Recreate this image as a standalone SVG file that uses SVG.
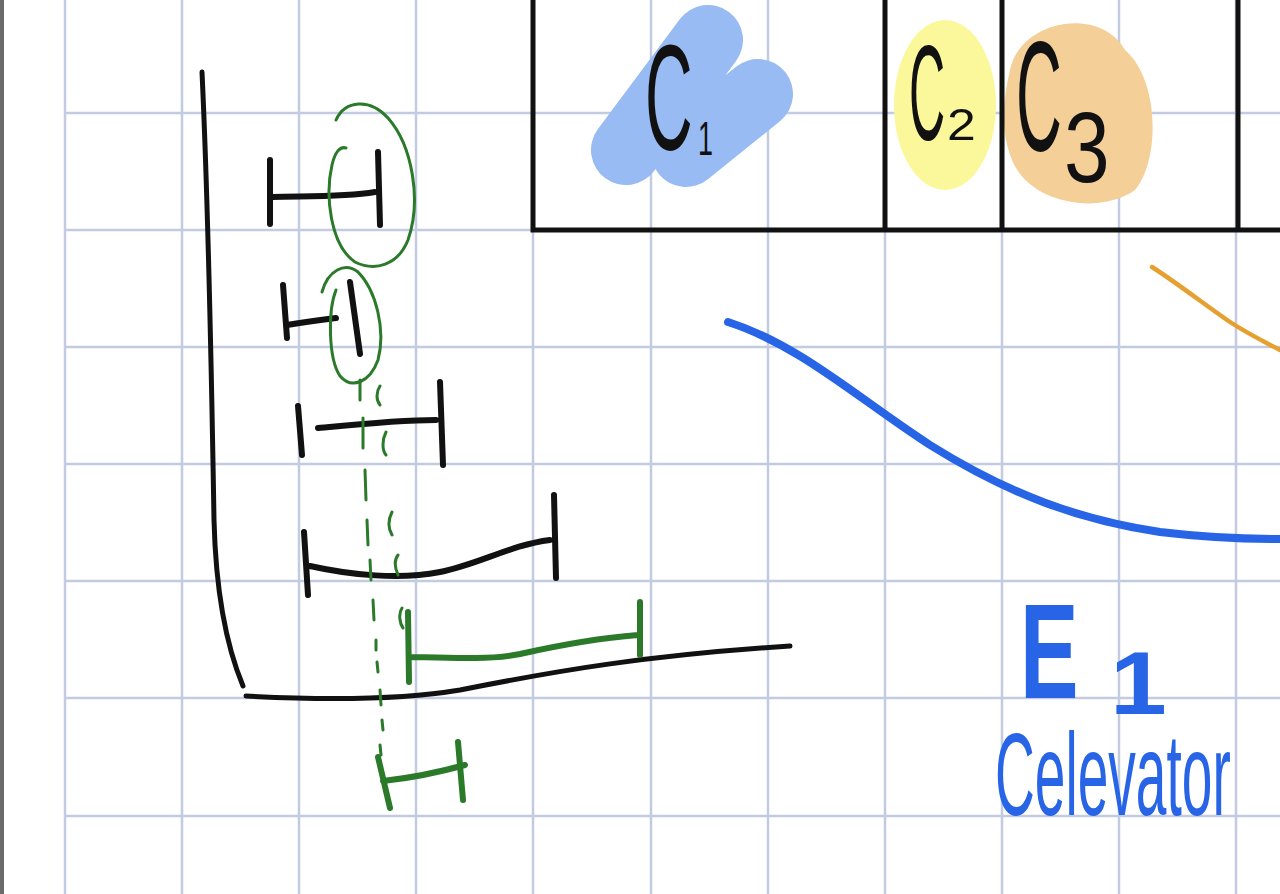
<svg xmlns="http://www.w3.org/2000/svg" width="1280" height="894" viewBox="0 0 1280 894">
<style>
.grid{stroke:#c3cbe2;stroke-width:2.5;fill:none}
.ink{stroke:#111;stroke-width:6;fill:none;stroke-linecap:round;stroke-linejoin:round}
.axis{stroke:#111;stroke-width:5;fill:none;stroke-linecap:round}
.tbl{stroke:#111;stroke-width:5;fill:none}
.gr{stroke:#2a7a2a;stroke-width:3;fill:none;stroke-linecap:round}
.grt{stroke:#2a7a2a;stroke-width:6;fill:none;stroke-linecap:round;stroke-linejoin:round}
.hand{font-family:"Liberation Sans",Arial,sans-serif;fill:#111}
.blue{font-family:"Liberation Sans",Arial,sans-serif;fill:#2764e6}
</style>
<rect width="1280" height="894" fill="#ffffff"/>
<rect x="0" y="0" width="4" height="894" fill="#6b6b6b"/>
<g id="grid">
<path class="grid" d="M65 0V894M182 0V894M299 0V894M416 0V894M533 0V894M651 0V894M768 0V894M885 0V894M1002 0V894M1119 0V894M1236 0V894M65 113H1280M65 230H1280M65 347H1280M65 464H1280M65 581H1280M65 698H1280M65 816H1280"/>
</g>
<g id="highlights">
<path d="M626 150L708 40M686 152L758 94" stroke="#97bbf2" stroke-width="70" stroke-linecap="round" fill="none"/>
<ellipse cx="945" cy="105" rx="51" ry="85" fill="#fbf89c"/>
<path d="M1010 70 C1020 20 1100 5 1125 50 C1160 80 1160 160 1135 190 C1100 215 1030 205 1012 160 C1000 130 1003 100 1010 70Z" fill="#f4cf98"/>
</g>
<g id="table">
<path class="tbl" d="M533 0V230H1280M885 0V230M1002 0V230M1238 0V230"/>
</g>
<g id="labels">
<text class="hand" transform="translate(645,150) scale(0.44,1)" font-size="150">C</text>
<text class="hand" transform="translate(698,155) scale(0.56,1)" font-size="48">1</text>
<text class="hand" transform="translate(909,140) scale(0.37,1)" font-size="135">C</text>
<text class="hand" transform="translate(947,140) scale(1.15,1)" font-size="45">2</text>
<text class="hand" transform="translate(1016,150) scale(0.41,1)" font-size="155">C</text>
<text class="hand" transform="translate(1064,182) scale(0.82,1)" font-size="100">3</text>
</g>
<g id="axes">
<path class="axis" d="M202 72 C208 200 212 400 214 520 C216 600 228 650 243 686"/>
<path class="axis" d="M246 696 C320 700 400 700 460 690 C560 670 650 655 790 646"/>
</g>
<g id="black-intervals">
<path class="ink" d="M270 160V224M378 152L380 225M272 197C310 196 345 197 375 192"/>
<path class="ink" d="M283 285L287 338M287 325C305 322 320 320 336 318M350 282L360 354"/>
<path class="ink" d="M298 406L302 455M318 428C360 424 400 420 436 420M440 382L443 465"/>
<path class="ink" d="M304 532L308 595M310 566C350 575 400 580 440 572C480 564 510 545 550 540M554 495L556 578"/>
</g>
<g id="green-marks">
<path class="gr" d="M336 120C345 100 370 98 388 118C412 145 422 200 408 240C398 265 375 272 355 262C330 245 325 195 332 165C335 152 340 146 346 148"/>
<path class="gr" d="M322 292C328 270 345 262 358 272C376 290 386 330 378 360C370 382 352 390 340 376C328 358 328 310 336 290"/>
<path class="gr" d="M360 380L360 400M363 418L363 448M365 470L366 500M367 520L368 545M370 560L371 580M373 600L374 620M376 640L376 650M377 662L378 672M380 690L381 705M382 720L383 730M380 745L381 755"/>
<path class="gr" d="M380 386C376 392 376 400 380 405M386 432C382 440 382 450 386 455M392 512C388 520 388 528 392 535M398 555C394 560 395 568 398 575M402 608C398 614 400 624 403 628"/>
<path class="grt" d="M408 612L409 682M410 657C450 658 490 660 520 654C560 645 600 638 638 635M640 602L640 655"/>
<path class="grt" d="M378 757L390 808M383 781C410 778 440 772 465 765M458 742L463 800"/>
</g>
<g id="curves">
<path d="M728 322C800 345 860 400 930 445C1010 495 1080 520 1160 532C1210 538 1250 539 1280 539" stroke="#2764e6" stroke-width="8" fill="none" stroke-linecap="round"/>
<path d="M1152 267C1180 285 1205 305 1230 322C1250 335 1265 342 1280 350" stroke="#e6a030" stroke-width="4.5" fill="none" stroke-linecap="round"/>
</g>
<g id="e-label">
<text class="blue" transform="translate(1020,698) scale(0.645,1)" font-size="136" font-weight="bold">E</text>
<text class="blue" transform="translate(1110,714) scale(1.16,1)" font-size="88" font-weight="bold">1</text>
<text class="blue" transform="translate(995,815) scale(0.475,1)" font-size="116">Celevator</text>
</g>
</svg>
